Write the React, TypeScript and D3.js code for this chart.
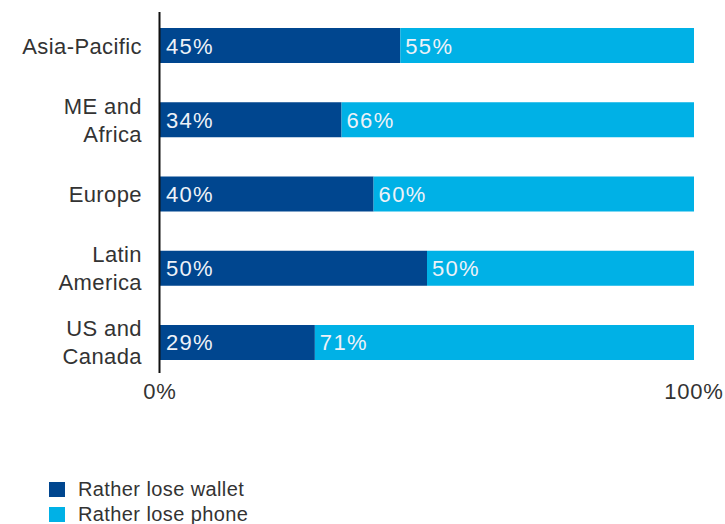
import React from "react";
import * as d3 from "d3";

const categories: string[][] = [["Asia-Pacific"], ["ME and", "Africa"], ["Europe"], ["Latin", "America"], ["US and", "Canada"]];
const wallet: number[] = [45, 34, 40, 50, 29];
const phone: number[] = [55, 66, 60, 50, 71];
const seriesNames = ["Rather lose wallet", "Rather lose phone"];
const colors = ["#00468F", "#00B1E6"];
const tickLabels = ["0%", "100%"];

export default function App() {
  const W = 725, H = 524;
  const x = d3.scaleLinear().domain([0, 100]).range([160, 694]);
  const y = d3.scaleBand<number>().domain(d3.range(categories.length)).range([28, 360]).paddingInner(0.5286).paddingOuter(0);
  const font = "'Liberation Sans', Arial, sans-serif";
  return (
    <svg width={W} height={H} style={{ position: "absolute", left: 0, top: 0 }} fontFamily={font}>
      {categories.map((c, i) => {
        const yc = y(i)! + y.bandwidth() / 2;
        const w0 = x(0), w1 = x(wallet[i]), w2 = x(wallet[i] + phone[i]);
        return (
          <g key={i}>
            <rect x={w0} y={y(i)} width={w1 - w0} height={y.bandwidth()} fill={colors[0]} />
            <rect x={w1} y={y(i)} width={w2 - w1} height={y.bandwidth()} fill={colors[1]} />
            <text x={w0 + 6} y={yc + 8} fontSize={22} letterSpacing={1.3} fill="#eef2f8">{wallet[i]}%</text>
            <text x={w1 + 5} y={yc + 8} fontSize={22} letterSpacing={1.3} fill="#eef2f8">{phone[i]}%</text>
            {c.map((line, j) => (
              <text key={j} x={142} y={yc + 8 + (j - (c.length - 1) / 2) * 28} fontSize={22} letterSpacing={0.4} fill="#333" textAnchor="end">{line}</text>
            ))}
          </g>
        );
      })}
      <line x1={159.5} x2={159.5} y1={12} y2={373} stroke="#111" strokeWidth={2} />
      {[0, 100].map((v, i) => (
        <text key={i} x={x(v)} y={399} fontSize={22} letterSpacing={0.8} fill="#333" textAnchor="middle">{tickLabels[i]}</text>
      ))}
      {seriesNames.map((s, i) => (
        <g key={i}>
          <rect x={49} y={482 + i * 25} width={16} height={15} fill={colors[i]} />
          <text x={78} y={496 + i * 25} fontSize={20} letterSpacing={0.4} fill="#333">{s}</text>
        </g>
      ))}
    </svg>
  );
}
